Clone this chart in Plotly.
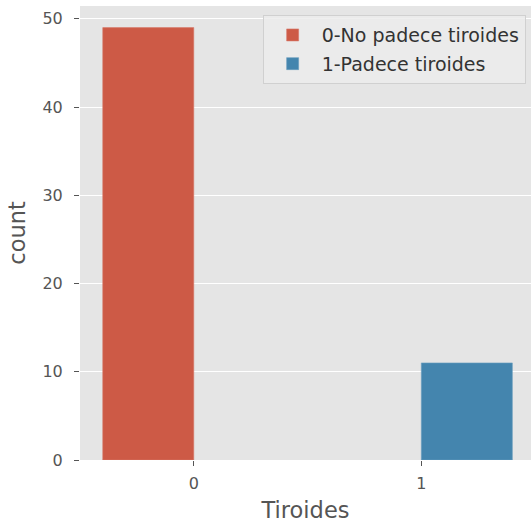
import plotly.graph_objects as go

categories = [0, 1]
no_padece = [49, None]
padece = [None, 11]
series_names = ["0-No padece tiroides", "1-Padece tiroides"]
y_ticks = [0, 10, 20, 30, 40, 50]

FONT = "DejaVu Sans"
fig = go.Figure()
fig.add_trace(go.Bar(x=categories, y=no_padece, name=series_names[0], legendgroup="a",
                     marker=dict(color="#CD5A46", line=dict(width=0.6, color="#D8796A"))))
fig.add_trace(go.Bar(x=categories, y=padece, name=series_names[1], legendgroup="b",
                     marker=dict(color="#4485AE", line=dict(width=0.6, color="#6A9DC0"))))

fig.update_layout(
    width=531, height=531,
    margin=dict(l=80, r=0, t=6, b=71),
    paper_bgcolor="white", plot_bgcolor="#E5E5E5",
    barmode="group", bargap=0.2, bargroupgap=0,
    font=dict(family=FONT, color="#555555", size=16),
    showlegend=True,
    legend=dict(x=0.405, y=0.98, xanchor="left", yanchor="top",
                bgcolor="rgba(236,236,236,0.85)", bordercolor="#D0D0D0", borderwidth=1,
                font=dict(family=FONT, size=19, color="#333333"),
                itemwidth=48, traceorder="grouped", tracegroupgap=1),
)
fig.update_xaxes(range=[-0.5, 1.482], tickmode="array", tickvals=categories,
                 ticktext=[str(c) for c in categories], showgrid=False, zeroline=False,
                 ticks="outside", ticklen=5, tickcolor="#555555", automargin=False,
                 ticklabelstandoff=4,
                 title=dict(text="Tiroides", font=dict(size=22.5, color="#555555"), standoff=10),
                 tickfont=dict(size=16, color="#555555"))
fig.update_yaxes(range=[0, 51.45], tickmode="array", tickvals=y_ticks,
                 showgrid=True, gridcolor="white", gridwidth=1.2, zeroline=False,
                 ticks="outside", ticklen=5, tickcolor="#555555", automargin=False,
                 ticklabelstandoff=8,
                 title=dict(text="count", font=dict(size=22.5, color="#555555"), standoff=10),
                 tickfont=dict(size=16, color="#555555"))

fig.write_html("out.html", config={"displayModeBar": False},
               post_script="document.body.style.margin='0';")
